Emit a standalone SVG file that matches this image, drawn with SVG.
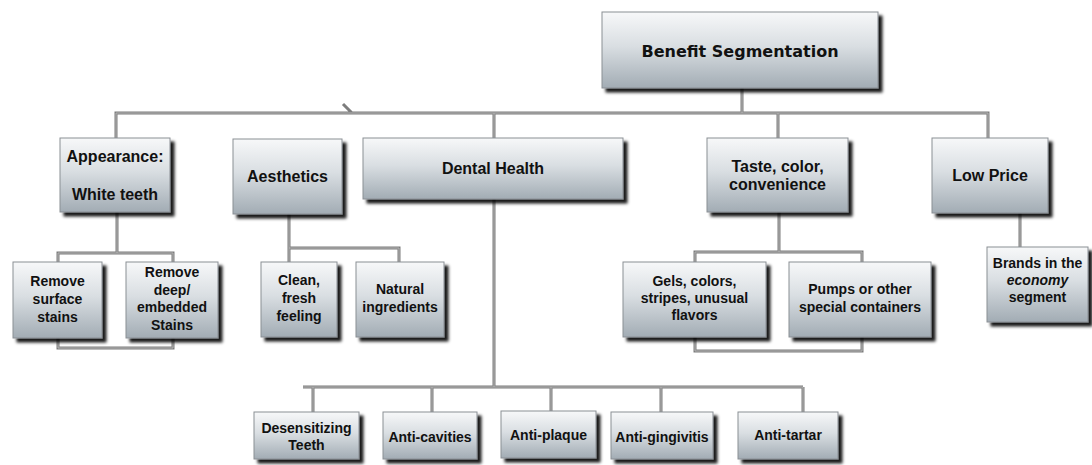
<svg xmlns="http://www.w3.org/2000/svg" width="1092" height="465" viewBox="0 0 1092 465">
<defs>
<linearGradient id="g" x1="0" y1="0" x2="0" y2="1">
<stop offset="0" stop-color="#f7f8f9"/>
<stop offset="0.45" stop-color="#d9dee2"/>
<stop offset="1" stop-color="#a2acb4"/>
</linearGradient>
<filter id="sh" x="-10%" y="-10%" width="130%" height="140%">
<feDropShadow dx="4" dy="4" stdDeviation="1.5" flood-color="#000" flood-opacity="0.9"/>
</filter>
</defs>
<style>
.box{fill:url(#g);stroke:#8a8f94;stroke-width:1;filter:url(#sh)}
.c{fill:none;stroke:#7d7d7d;stroke-width:3}
.ci{fill:none;stroke:#b5b5b5;stroke-width:1}
text{font-family:"Liberation Sans",Arial,sans-serif;font-weight:bold;fill:#111;text-anchor:middle}
.l1{font-size:16px}
.l2{font-size:14px}
.root{font-family:"DejaVu Sans",Verdana,sans-serif;font-size:16px}
</style>
<g id="connectors">
<path class="c" d="M742,88 V113 M116,138 V113 H988 V138 M494,113 V138 M778,113 V138 M343,104 L352,113 M117,212 V253 M58,262 V253 H173 V262 M58,338 V348 H173 V338 M289,214 V262 M289,248 H399 V262 M779,212 V252 M695,262 V252 H862 V262 M695,337 V351 H862 V337 M1020,213 V247 M494,199 V387 M303,387 H803 M313,387 V412 M432,387 V412 M551,387 V411 M661,387 V412 M803,387 V412"/>
<path class="ci" d="M742,88 V113 M116,138 V113 H988 V138 M494,113 V138 M778,113 V138 M117,212 V253 M58,262 V253 H173 V262 M58,338 V348 H173 V338 M289,214 V262 M289,248 H399 V262 M779,212 V252 M695,262 V252 H862 V262 M695,337 V351 H862 V337 M1020,213 V247 M494,199 V387 M303,387 H803 M313,387 V412 M432,387 V412 M551,387 V411 M661,387 V412 M803,387 V412"/>
</g>
<g id="root"><rect class="box" x="602" y="12" width="276" height="76"/><text class="root" x="740" y="57">Benefit Segmentation</text></g>
<g id="appearance"><rect class="box" x="60" y="138" width="110" height="74"/><text class="l1" x="115" y="162">Appearance:</text><text class="l1" x="115" y="200">White teeth</text></g>
<g id="aesthetics"><rect class="box" x="233" y="139" width="109" height="75"/><text class="l1" x="287.5" y="182">Aesthetics</text></g>
<g id="dental"><rect class="box" x="363" y="138" width="260" height="61"/><text class="l1" x="493" y="174">Dental Health</text></g>
<g id="taste"><rect class="box" x="707" y="138" width="141" height="74"/><text class="l1" x="777.5" y="172">Taste, color,</text><text class="l1" x="777.5" y="190">convenience</text></g>
<g id="lowprice"><rect class="box" x="932" y="138" width="116" height="75"/><text class="l1" x="990" y="181">Low Price</text></g>
<g id="surface"><rect class="box" x="13" y="262" width="89" height="76"/><text class="l2" x="57.5" y="286">Remove</text><text class="l2" x="57.5" y="304">surface</text><text class="l2" x="57.5" y="322">stains</text></g>
<g id="deep"><rect class="box" x="126" y="262" width="92" height="76"/><text class="l2" x="172" y="277">Remove</text><text class="l2" x="172" y="295">deep/</text><text class="l2" x="172" y="312">embedded</text><text class="l2" x="172" y="330">Stains</text></g>
<g id="clean"><rect class="box" x="261" y="262" width="76" height="75"/><text class="l2" x="299" y="285">Clean,</text><text class="l2" x="299" y="303">fresh</text><text class="l2" x="299" y="321">feeling</text></g>
<g id="natural"><rect class="box" x="356" y="262" width="88" height="75"/><text class="l2" x="400" y="294">Natural</text><text class="l2" x="400" y="312">ingredients</text></g>
<g id="gels"><rect class="box" x="623" y="262" width="143" height="75"/><text class="l2" x="694.5" y="286">Gels, colors,</text><text class="l2" x="694.5" y="303">stripes, unusual</text><text class="l2" x="694.5" y="320">flavors</text></g>
<g id="pumps"><rect class="box" x="789" y="262" width="142" height="75"/><text class="l2" x="860" y="294">Pumps or other</text><text class="l2" x="860" y="312">special containers</text></g>
<g id="brands"><rect class="box" x="987" y="247" width="101" height="75"/><text class="l2" x="1037.5" y="268">Brands in the</text><text class="l2" x="1037.5" y="285" font-style="italic">economy</text><text class="l2" x="1037.5" y="302">segment</text></g>
<g id="desens"><rect class="box" x="254" y="412" width="105" height="47"/><text class="l2" x="306.5" y="433">Desensitizing</text><text class="l2" x="306.5" y="450">Teeth</text></g>
<g id="cavities"><rect class="box" x="383" y="412" width="94" height="47"/><text class="l2" x="430" y="442">Anti-cavities</text></g>
<g id="plaque"><rect class="box" x="501" y="411" width="95" height="47"/><text class="l2" x="548.5" y="440">Anti-plaque</text></g>
<g id="gingivitis"><rect class="box" x="611" y="412" width="102" height="47"/><text class="l2" x="662" y="442">Anti-gingivitis</text></g>
<g id="tartar"><rect class="box" x="738" y="412" width="100" height="47"/><text class="l2" x="788" y="440">Anti-tartar</text></g>
</svg>
